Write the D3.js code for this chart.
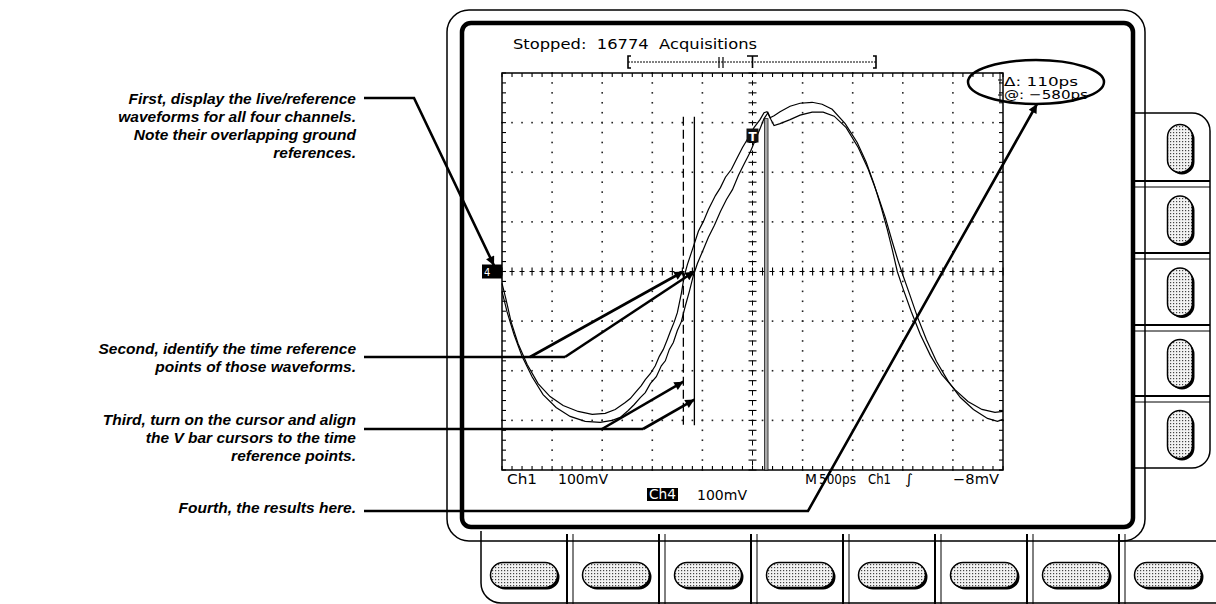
<!DOCTYPE html>
<html><head><meta charset="utf-8">
<script src="https://cdn.jsdelivr.net/npm/d3@7"></script>
<style>body{margin:0;background:#fff}svg{display:block}</style>
</head><body><svg id="c" width="1216" height="604"></svg>
<script>
// ---------- data ----------
const statusText = "Stopped:  16774  Acquisitions";
const readoutLines = ["\u0394: 110ps", "@: \u2212580ps"];
const ch1Label = ["Ch1", "100mV"];
const ch4Label = ["Ch4", "100mV"];
const timeLabel = ["M", "500ps", "Ch1", "\u222B", "\u22128mV"];
const xDomain = [-2500, 2500];           // ps  (500 ps/div)
const yDomain = [-400, 400];             // mV  (100 mV/div)
const xMajor = d3.range(-2500, 2501, 500);
const yMajor = d3.range(-400, 401, 100);
const xMinor = d3.range(-2500, 2501, 100);
const yMinor = d3.range(-400, 401, 20);
const cursorsPs = [-690, -580];          // V bar cursors
const triggerPs = 135;
const triggerLevelMv = 274;
// trace 1 : [ps, mV]
const trace1 = [[-2500,-24],[-2460,-56],[-2410,-101],[-2340,-145],[-2250,-187],[-2140,-226],[-2020,-252],[-1890,-270],[-1740,-282],[-1600,-288],[-1470,-286],[-1370,-278],[-1270,-264],[-1220,-256],[-1170,-244],[-1110,-230],[-1070,-218],[-1020,-206],[-970,-190],[-930,-171],[-890,-157],[-850,-137],[-820,-121],[-780,-101],[-750,-83],[-710,-44],[-680,-8],[-650,14],[-600,44],[-540,81],[-490,101],[-440,125],[-370,153],[-320,169],[-270,190],[-210,206],[-160,226],[-100,250],[-40,270],[15,290],[75,306],[115,320],[145,322],[175,310],[215,314],[275,322],[375,333],[475,339],[595,341],[695,337],[795,327],[925,298],[1045,260],[1135,220],[1215,175],[1285,129],[1345,85],[1395,44],[1445,0],[1505,-36],[1585,-81],[1675,-127],[1775,-169],[1890,-208],[2020,-238],[2150,-262],[2290,-278],[2420,-284],[2500,-282]];
// trace 2 : [ps, mV]
const trace2 = [[-2500,-40],[-2450,-81],[-2380,-127],[-2300,-171],[-2200,-212],[-2090,-248],[-1960,-274],[-1820,-292],[-1670,-302],[-1520,-304],[-1400,-300],[-1320,-294],[-1240,-280],[-1180,-268],[-1120,-254],[-1070,-244],[-1020,-226],[-960,-212],[-910,-190],[-870,-180],[-830,-157],[-790,-143],[-750,-119],[-710,-101],[-670,-69],[-630,-40],[-590,-8],[-550,16],[-500,40],[-440,69],[-380,93],[-320,121],[-260,145],[-200,165],[-140,194],[-80,218],[-20,242],[30,266],[80,290],[115,308],[155,320],[185,306],[215,294],[275,298],[375,306],[475,315],[595,321],[705,321],[815,313],[935,290],[1055,250],[1155,206],[1245,157],[1325,109],[1395,60],[1455,20],[1495,-4],[1565,-44],[1645,-91],[1735,-137],[1835,-181],[1955,-222],[2075,-254],[2205,-278],[2345,-296],[2445,-302],[2500,-298]];
const notes1 = ["First, display the live/reference","waveforms for all four channels.","Note their overlapping ground","references."];
const notes2 = ["Second, identify the time reference","points of those waveforms."];
const notes3 = ["Third, turn on the cursor and align","the V bar cursors to the time","reference points."];
const notes4 = ["Fourth, the results here."];
const thirdArrowMv = [-222, -258];

// ---------- setup ----------
const svg = d3.select('#c');
const x = d3.scaleLinear().domain(xDomain).range([502, 1003]);
const y = d3.scaleLinear().domain(yDomain).range([470, 73]);
const defs = svg.append('defs');
const pat = defs.append('pattern').attr('id','stip').attr('width',3).attr('height',3).attr('patternUnits','userSpaceOnUse');
pat.append('rect').attr('width',3).attr('height',3).attr('fill','#f2f2f2');
pat.append('rect').attr('width',1.2).attr('height',1.2).attr('fill','#444');
defs.append('marker').attr('id','arr').attr('viewBox','0 0 10 10').attr('refX',10).attr('refY',5)
  .attr('markerWidth',15).attr('markerHeight',9).attr('orient','auto').attr('markerUnits','userSpaceOnUse')
  .append('path').attr('d','M0,0L10,5L0,10z').attr('fill','#000');

const scrFont = "'DejaVu Sans', Verdana, sans-serif";
const noteFont = "'Liberation Sans', Arial, sans-serif";

// ---------- bezel ----------
const bz = svg.append('g').attr('fill','none').attr('stroke','#000');
bz.append('rect').attr('x',447).attr('y',10).attr('width',698).attr('height',531).attr('rx',22).attr('stroke-width',1.5);
bz.append('line').attr('x1',1120).attr('x2',1216).attr('y1',541).attr('y2',541).attr('stroke-width',1.5);
bz.append('rect').attr('x',462).attr('y',23).attr('width',671).attr('height',504).attr('rx',9).attr('stroke-width',4.5);
bz.append('path').attr('d','M1133,113H1192A18,18 0 0 1 1210,131V450A18,18 0 0 1 1192,468H1133').attr('stroke-width',1.5).attr('fill','none');
const rb = [113,184,256,328,399,470];
rb.slice(1,-1).forEach(b=>{
  bz.append('line').attr('x1',1135).attr('x2',1210).attr('y1',b-3).attr('y2',b-3).attr('stroke-width',1.8);
  bz.append('line').attr('x1',1135).attr('x2',1210).attr('y1',b+3).attr('y2',b+3).attr('stroke-width',1);
});
bz.append('path').attr('d','M481,531V583A20,20 0 0 0 501,603H1216').attr('stroke-width',1.5);
const bsep = d3.range(7).map(i=>570+92*i);
bsep.forEach(s=>{
  bz.append('line').attr('x1',s-3).attr('x2',s-3).attr('y1',534).attr('y2',604).attr('stroke-width',2);
  bz.append('line').attr('x1',s+3).attr('x2',s+3).attr('y1',534).attr('y2',604).attr('stroke-width',1);
});
function capsule(cx, cy, w, h){
  const g = svg.append('g');
  const r = Math.min(w,h)/2;
  g.append('rect').attr('x',cx-w/2+2).attr('y',cy-h/2+2).attr('width',w).attr('height',h).attr('rx',r).attr('fill','#000');
  g.append('rect').attr('x',cx-w/2).attr('y',cy-h/2).attr('width',w).attr('height',h).attr('rx',r)
    .attr('fill','url(#stip)').attr('stroke','#000').attr('stroke-width',1.5);
}
d3.range(8).forEach(i=>capsule(524+92*i, 575, 67, 25));
rb.slice(0,-1).forEach((b,i)=>capsule(1180, (b+rb[i+1])/2, 25, 48));

// ---------- graticule ----------
const gr = svg.append('g');
const dots = [];
xMajor.slice(1,-1).forEach(xv=>{ if(xv!==0) yMinor.forEach(yv=>dots.push([xv,yv])); });
yMajor.slice(1,-1).forEach(yv=>{ if(yv!==0) xMinor.forEach(xv=>dots.push([xv,yv])); });
gr.selectAll('rect.dot').data(dots).join('rect').attr('class','dot')
  .attr('x',d=>x(d[0])-0.8).attr('y',d=>y(d[1])-0.8).attr('width',1.6).attr('height',1.6).attr('fill','#222');
gr.append('rect').attr('x',x(-2500)).attr('y',y(400)).attr('width',x(2500)-x(-2500)).attr('height',y(-400)-y(400))
  .attr('fill','none').attr('stroke','#000').attr('stroke-width',1.5);
const bt = [];
xMinor.forEach(v=>{ bt.push([x(v),y(400),x(v),y(400)+4]); bt.push([x(v),y(-400),x(v),y(-400)-4]); });
yMinor.forEach(v=>{ bt.push([x(-2500),y(v),x(-2500)+4,y(v)]); bt.push([x(2500),y(v),x(2500)-4,y(v)]); });
xMinor.forEach(v=>bt.push([x(v),y(0)-4,x(v),y(0)+4]));
yMinor.forEach(v=>bt.push([x(0)-4,y(v),x(0)+4,y(v)]));
gr.selectAll('line.t').data(bt).join('line').attr('class','t')
  .attr('x1',d=>d[0]).attr('y1',d=>d[1]).attr('x2',d=>d[2]).attr('y2',d=>d[3]).attr('stroke','#000').attr('stroke-width',1.1);
gr.append('line').attr('x1',x(-2500)).attr('x2',x(2500)).attr('y1',y(0)).attr('y2',y(0))
  .attr('stroke','#000').attr('stroke-width',1).attr('stroke-dasharray','5 5').attr('stroke-dashoffset',2.5);
gr.append('line').attr('y1',y(400)).attr('y2',y(-400)).attr('x1',x(0)).attr('x2',x(0))
  .attr('stroke','#000').attr('stroke-width',1).attr('stroke-dasharray','5 5').attr('stroke-dashoffset',2.5);

// ---------- cursors & trigger ----------
svg.append('line').attr('x1',x(cursorsPs[0])).attr('x2',x(cursorsPs[0])).attr('y1',y(312)).attr('y2',y(-314))
  .attr('stroke','#000').attr('stroke-width',1.3).attr('stroke-dasharray','9 4');
svg.append('line').attr('x1',x(cursorsPs[1])).attr('x2',x(cursorsPs[1])).attr('y1',y(312)).attr('y2',y(-310))
  .attr('stroke','#000').attr('stroke-width',1.3);
svg.append('rect').attr('x',x(triggerPs)-1.5).attr('y',y(308)).attr('width',3.5).attr('height',y(-400)-y(308))
  .attr('fill','#aaa').attr('stroke','#000').attr('stroke-width',0.7);

// ---------- traces ----------
const line = d3.line().x(d=>x(d[0])).y(d=>y(d[1]));
[trace1, trace2].forEach(t=>svg.append('path').attr('d',line(t)).attr('fill','none').attr('stroke','#000').attr('stroke-width',1.2));

const tx = x(0), ty = y(triggerLevelMv);
svg.append('rect').attr('x',tx-6).attr('y',ty-7).attr('width',12).attr('height',14).attr('fill','#111');
svg.append('text').attr('x',tx).attr('y',ty+5).attr('text-anchor','middle').attr('fill','#fff')
  .attr('font-family',scrFont).attr('font-weight','bold').attr('font-size',12).text('T');
const gy = y(0);
svg.append('rect').attr('x',482).attr('y',gy-7).attr('width',x(-2500)-482).attr('height',14).attr('fill','#000');
svg.append('text').attr('x',484).attr('y',gy+4).attr('fill','#fff').attr('font-family',scrFont).attr('font-size',10).text('4');

// ---------- screen text ----------
svg.append('text').attr('x',513).attr('y',49).attr('font-family',scrFont).attr('font-size',14)
  .attr('textLength',244).attr('lengthAdjust','spacingAndGlyphs').style('white-space','pre').text(statusText);
const rk = svg.append('g').attr('stroke','#000').attr('fill','none');
rk.append('line').attr('x1',628).attr('x2',876).attr('y1',62).attr('y2',62).attr('stroke-width',1).attr('stroke-dasharray','2 1');
rk.append('path').attr('d','M631,56H628V68H631').attr('stroke-width',1.6);
rk.append('path').attr('d','M873,56H876V68H873').attr('stroke-width',1.6);
rk.append('line').attr('x1',719).attr('x2',719).attr('y1',57).attr('y2',68).attr('stroke-width',1.2);
rk.append('line').attr('x1',723).attr('x2',723).attr('y1',57).attr('y2',68).attr('stroke-width',1.2);
rk.append('path').attr('d','M747,56H758M752.5,56V68').attr('stroke-width',1.6);

// readout
svg.append('ellipse').attr('cx',1036).attr('cy',82).attr('rx',68).attr('ry',22).attr('fill','none').attr('stroke','#000').attr('stroke-width',2.5);
svg.append('path').attr('d','M1000,74V102M998,80H1002M998,95H1002').attr('stroke','#000').attr('stroke-width',1);
readoutLines.forEach((t,i)=>svg.append('text').attr('x',1004).attr('y',86+i*13).attr('font-family',scrFont).attr('font-size',13)
  .attr('textLength',i?84:74).attr('lengthAdjust','spacingAndGlyphs').text(t));

// bottom labels
const lb = svg.append('g').attr('font-family',scrFont).attr('font-size',14);
lb.append('text').attr('x',507).attr('y',484).attr('textLength',30).attr('lengthAdjust','spacingAndGlyphs').text(ch1Label[0]);
lb.append('text').attr('x',558).attr('y',484).attr('textLength',50).attr('lengthAdjust','spacingAndGlyphs').text(ch1Label[1]);
lb.append('rect').attr('x',647).attr('y',488).attr('width',31).attr('height',13).attr('fill','#000');
lb.append('text').attr('x',649).attr('y',499).attr('fill','#fff').attr('textLength',27).attr('lengthAdjust','spacingAndGlyphs').text(ch4Label[0]);
lb.append('text').attr('x',697).attr('y',500).attr('textLength',50).attr('lengthAdjust','spacingAndGlyphs').text(ch4Label[1]);
const tl = [[805,12],[819,37],[868,23],[905,8],[953,46]];
timeLabel.forEach((t,i)=>lb.append('text').attr('x',tl[i][0]).attr('y',484).attr('textLength',tl[i][1]).attr('lengthAdjust','spacingAndGlyphs').text(t));

// ---------- annotations ----------
const an = svg.append('g').attr('font-family',noteFont).attr('font-weight','bold').attr('font-style','italic')
  .attr('font-size',15.5).attr('text-anchor','end');
function block(lines, y0){ lines.forEach((t,i)=>an.append('text').attr('x',356).attr('y',y0+i*18).text(t)); }
block(notes1, 104); block(notes2, 354); block(notes3, 425); block(notes4, 513);
const ld = svg.append('g').attr('stroke','#000').attr('stroke-width',2.6).attr('fill','none');
ld.append('path').attr('d',`M364,98H414L${x(-2500)-8},${gy-6}`).attr('marker-end','url(#arr)');
ld.append('path').attr('d',`M364,357H565`);
ld.append('path').attr('d',`M530,357L${x(cursorsPs[0])},${y(0)}`).attr('marker-end','url(#arr)');
ld.append('path').attr('d',`M565,357L${x(cursorsPs[1])},${y(0)}`).attr('marker-end','url(#arr)');
ld.append('path').attr('d',`M364,429H643`);
ld.append('path').attr('d',`M602,429L${x(cursorsPs[0])},${y(thirdArrowMv[0])}`).attr('marker-end','url(#arr)');
ld.append('path').attr('d',`M643,429L${x(cursorsPs[1])},${y(thirdArrowMv[1])}`).attr('marker-end','url(#arr)');
ld.append('path').attr('d',`M364,511H808L1037,104`).attr('marker-end','url(#arr)');
</script></body></html>
